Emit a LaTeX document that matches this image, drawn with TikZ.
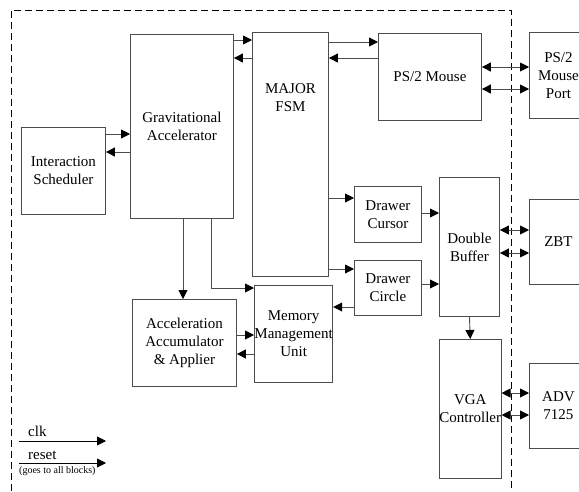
\documentclass[tikz,border=0pt]{standalone}
\usepackage{fontspec}
\setmainfont{Liberation Serif}
\usetikzlibrary{arrows.meta}
\tikzset{
  blk/.style={draw=black!70, line width=0.9pt, inner sep=0pt, align=center, anchor=north west,
    font=\fontsize{15}{18}\selectfont},
  sig/.style={draw=black!70, line width=0.9pt, -{Triangle[length=9pt,width=9pt,color=black]}},
  bus/.style={draw=black!70, line width=0.9pt,
    {Triangle[length=9pt,width=9pt,color=black]}-{Triangle[length=9pt,width=9pt,color=black]}},
  frame/.style={line width=0.8pt, dash pattern=on 7pt off 4pt},
  txt/.style={font=\fontsize{15}{18}\selectfont, inner sep=0pt}
}
\begin{document}
\begin{tikzpicture}[x=1pt,y=-1pt]
\clip (0,0) rectangle (579,491);
% board boundary
\draw[frame] (11,491) -- (11,10) -- (511,10) -- (511,491);
% blocks
\node[blk, minimum width=84, minimum height=87] (is) at (21,127) {Interaction\\Scheduler};
\node[blk, minimum width=103, minimum height=184] (ga) at (130,34) {Gravitational\\Accelerator};
\node[blk, minimum width=76, minimum height=244] (fsm) at (252,32) {};
\node[txt, align=center] (fsmtxt) at ([yshift=-66pt]fsm.north) {MAJOR\\FSM};
\node[blk, minimum width=103, minimum height=87] (ps2) at (378,33) {PS/2 Mouse};
\node[blk, minimum width=58, minimum height=86] (port) at (529,32) {PS/2\\Mouse\\Port};
\node[blk, minimum width=67, minimum height=56] (dcur) at (354,186) {Drawer\\Cursor};
\node[blk, minimum width=60, minimum height=139] (dbuf) at (439,177) {Double\\Buffer};
\node[blk, minimum width=58, minimum height=85] (zbt) at (529,199) {ZBT};
\node[blk, minimum width=67, minimum height=55] (dcir) at (354,260) {Drawer\\Circle};
\node[blk, minimum width=75, minimum height=97] (mmu) at (254,285) {Memory\\Management\\Unit};
\node[blk, minimum width=104, minimum height=87] (aaa) at (132,299) {Acceleration\\Accumulator\\\& Applier};
\node[blk, minimum width=60, minimum height=139] (vga) at (439,339) {VGA\\Controller};
\node[blk, minimum width=58, minimum height=85] (adv) at (529,363) {ADV\\7125};
% connections
\draw[sig] (is.east |- 0,134) -- (ga.west |- 0,134);
\draw[sig] (ga.west |- 0,152) -- (is.east |- 0,152);
\draw[sig] (ga.east |- 0,40) -- (fsm.west |- 0,40);
\draw[sig] (fsm.west |- 0,58) -- (ga.east |- 0,58);
\draw[sig] (fsm.east |- 0,42) -- (ps2.west |- 0,42);
\draw[sig] (ps2.west |- 0,58) -- (fsm.east |- 0,58);
\draw[bus] (ps2.east |- 0,67) -- (port.west |- 0,67);
\draw[bus] (ps2.east |- 0,89) -- (port.west |- 0,89);
\draw[sig] (fsm.east |- 0,198) -- (dcur.west |- 0,198);
\draw[sig] (dcur.east |- 0,213) -- (dbuf.west |- 0,213);
\draw[bus] (dbuf.east |- 0,230) -- (zbt.west |- 0,230);
\draw[bus] (dbuf.east |- 0,253) -- (zbt.west |- 0,253);
\draw[sig] (fsm.east |- 0,269) -- (dcir.west |- 0,269);
\draw[sig] (dcir.west |- 0,307) -- (mmu.east |- 0,307);
\draw[sig] (dcir.east |- 0,284) -- (dbuf.west |- 0,284);
\draw[sig] (ga.south -| 183,0) -- (aaa.north -| 183,0);
\draw[sig] (ga.south -| 211,0) |- (mmu.west |- 0,288);
\draw[sig] (aaa.east |- 0,335) -- (mmu.west |- 0,335);
\draw[sig] (mmu.west |- 0,354) -- (aaa.east |- 0,354);
\draw[sig] (dbuf.south) -- (vga.north);
\draw[bus] (vga.east |- 0,393) -- (adv.west |- 0,393);
\draw[bus] (vga.east |- 0,415) -- (adv.west |- 0,415);
% clock and reset
\coordinate (clkin) at (19,441);
\coordinate (clkout) at (106,441);
\coordinate (rstin) at (19,463);
\coordinate (rstout) at (106,463);
\draw[sig, draw=black] (clkin) -- (clkout);
\draw[sig, draw=black] (rstin) -- (rstout);
\node[txt, anchor=base west] (clk) at ([shift={(9,-5)}]clkin) {clk};
\node[txt, anchor=base west] (rst) at ([shift={(9,-4)}]rstin) {reset};
\node[inner sep=0pt, anchor=north west, font=\fontsize{10}{12}\selectfont] (all) at ([shift={(0,3)}]rstin) {(goes to all blocks)};
\end{tikzpicture}
\end{document}
